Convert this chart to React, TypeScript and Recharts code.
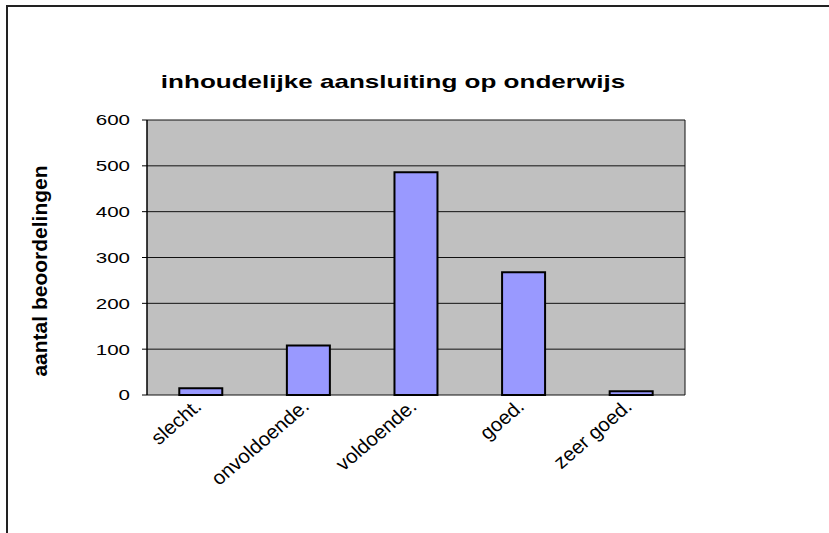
import React from 'react'
import {
  BarChart, Bar, XAxis, YAxis, CartesianGrid,
} from 'recharts'

const categories = ['slecht.', 'onvoldoende.', 'voldoende.', 'goed.', 'zeer goed.']
const counts = [15, 108, 486, 268, 8]
const yTicks = [0, 100, 200, 300, 400, 500, 600]
const bounds = [0, 1, 2, 3, 4, 5]

const data = categories.map((name, i) => ({ name, count: counts[i], pos: i + 0.5 }))

const FONT = 'Arial, "Liberation Sans", sans-serif'
// the original picture is stretched sideways, so text is too
const STRETCH = 1.37

const RotatedTick = (props: any) => {
  const { x, y, payload } = props
  return (
    <g transform={`translate(${x + 2},${y + 5}) scale(1.05,1)`}>
      <text
        transform="rotate(-42)"
        textAnchor="end"
        fontSize={19.5}
        fontFamily={FONT}
        fill="#000"
      >
        {payload.value}
      </text>
    </g>
  )
}

const ValueTick = (props: any) => {
  const { x, y, payload } = props
  return (
    <g transform={`translate(${x},${y}) scale(${STRETCH},1)`}>
      <text textAnchor="end" dy="0.36em" fontSize={15} fontFamily={FONT} fill="#000">
        {payload.value}
      </text>
    </g>
  )
}

export default function App() {
  return (
    <div style={{ position: 'absolute', left: 0, top: 0, width: 829, height: 533, background: '#fff', overflow: 'hidden' }}>
      <div style={{
        position: 'absolute', left: 6, top: 5, width: 840, height: 560,
        borderTop: '2px solid #222', borderLeft: '2px solid #222',
      }} />
      <div style={{
        position: 'absolute', left: 0, width: 786, top: 71, textAlign: 'center',
        fontFamily: FONT, fontWeight: 'bold', fontSize: 19,
        transform: `scaleX(${STRETCH})`, transformOrigin: '393px 0',
      }}>
        inhoudelijke aansluiting op onderwijs
      </div>
      <div style={{
        position: 'absolute', left: 40, top: 271, transform: 'translate(-50%, -50%) rotate(-90deg)',
        whiteSpace: 'nowrap', fontFamily: FONT, fontWeight: 'bold', fontSize: 21,
      }}>
        aantal beoordelingen
      </div>
      <BarChart
        width={829}
        height={533}
        data={data}
        margin={{ top: 120, right: 144, bottom: 0, left: 0 }}
        barCategoryGap="30%"
        style={{ position: 'absolute', left: 0, top: 0 }}
      >
        <CartesianGrid
          fill="#C0C0C0"
          stroke="#111"
          vertical={true}
          verticalCoordinatesGenerator={({ offset }: any) => [offset.left + offset.width]}
        />
        <XAxis
          dataKey="name"
          xAxisId="cat"
          height={138}
          axisLine={false}
          tickLine={false}
          interval={0}
          tick={<RotatedTick />}
        />
        <XAxis
          dataKey="pos"
          xAxisId="bounds"
          type="number"
          domain={[0, 5]}
          ticks={bounds}
          height={0}
          axisLine={{ stroke: '#000', strokeWidth: 1.5 }}
          tickLine={{ stroke: '#000' }}
          tickSize={6}
          tick={false}
        />
        <YAxis
          domain={[0, 600]}
          ticks={yTicks}
          width={147}
          interval={0}
          axisLine={{ stroke: '#000', strokeWidth: 1.5 }}
          tickLine={{ stroke: '#000' }}
          tickSize={5}
          tickMargin={12}
          tick={<ValueTick />}
        />
        <Bar
          dataKey="count"
          xAxisId="cat"
          fill="#9999FF"
          stroke="#000"
          strokeWidth={2}
          isAnimationActive={false}
        />
      </BarChart>
    </div>
  )
}
